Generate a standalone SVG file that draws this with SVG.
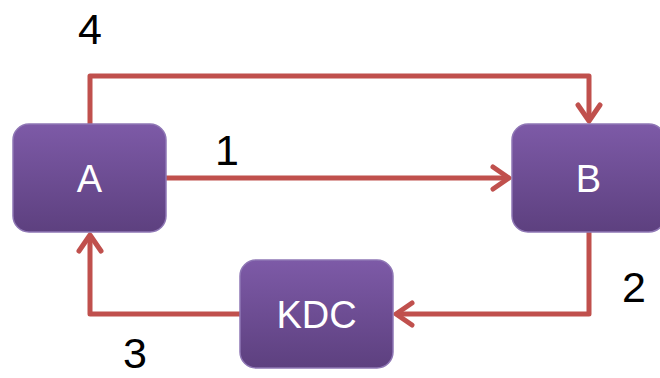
<svg xmlns="http://www.w3.org/2000/svg" width="660" height="378" viewBox="0 0 660 378">
<style>
.node{stroke:#8F77B5;stroke-width:1.5;fill:url(#g)}
.nt{font-family:"Liberation Sans",Arial,sans-serif;font-size:38px;fill:#fff;text-anchor:middle}
.lbl{font-family:"Liberation Sans",Arial,sans-serif;font-size:43px;fill:#000;text-anchor:middle}
.c{fill:none;stroke:#C0504D;stroke-width:5;stroke-linejoin:round;marker-end:url(#ah)}
</style>
<defs>
<linearGradient id="g" x1="0" y1="0" x2="0" y2="1">
<stop offset="0" stop-color="#7D5AA7"/>
<stop offset="1" stop-color="#5D407F"/>
</linearGradient>
<marker id="ah" markerUnits="userSpaceOnUse" viewBox="0 0 22 28" refX="19" refY="14" markerWidth="22" markerHeight="28" orient="auto">
<path d="M3,3 L19,14 L3,25" fill="none" stroke="#C0504D" stroke-width="5" stroke-linecap="round" stroke-linejoin="round"/>
</marker>
</defs>
<g id="connectors">
<path class="c" d="M166,178 L509,178"/>
<path class="c" d="M90,124 L90,76 L589,76 L589,121"/>
<path class="c" d="M589,232 L589,314 L396,314"/>
<path class="c" d="M240,314 L90,314 L90,235"/>
</g>
<g id="node-A">
<rect class="node" x="13" y="124" width="153" height="108" rx="16"/>
<text class="nt" x="89.5" y="192">A</text>
</g>
<g id="node-B">
<rect class="node" x="512" y="124" width="153" height="108" rx="16"/>
<text class="nt" x="588.5" y="192">B</text>
</g>
<g id="node-KDC">
<rect class="node" x="240" y="260" width="153" height="108" rx="16"/>
<text class="nt" x="316.5" y="328">KDC</text>
</g>
<g id="labels">
<text class="lbl" x="227" y="165">1</text>
<text class="lbl" x="634" y="302">2</text>
<text class="lbl" x="135" y="368">3</text>
<text class="lbl" x="90" y="44">4</text>
</g>
</svg>
